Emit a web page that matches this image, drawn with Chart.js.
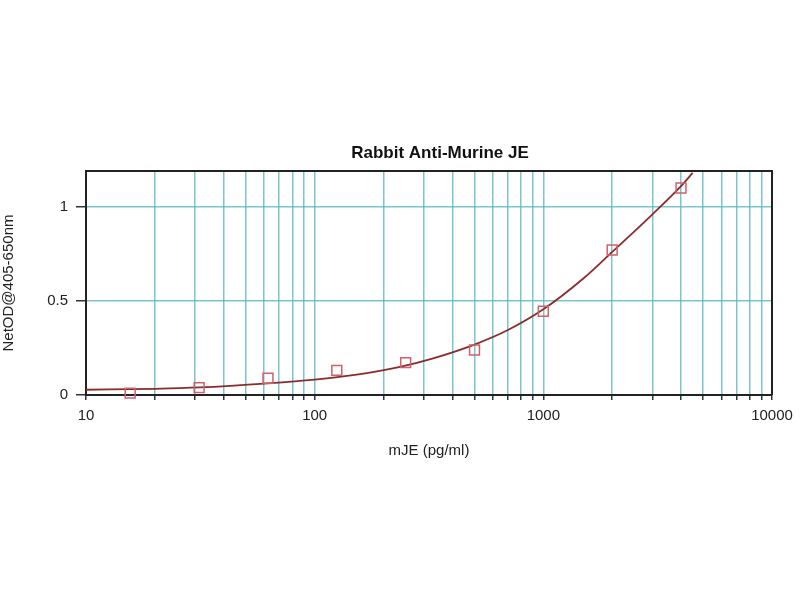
<!DOCTYPE html>
<html>
<head>
<meta charset="utf-8">
<script src="https://cdn.jsdelivr.net/npm/chart.js@4.4.0/dist/chart.umd.min.js"></script>
<style>
  html, body { margin: 0; padding: 0; background: #fff; }
  #wrap { width: 800px; height: 600px; }
</style>
</head>
<body>
<div id="wrap"><canvas id="canvas"></canvas></div>
<script>
// measured standards (pg/ml) and net OD
var conc = [15.6, 31.25, 62.5, 125, 250, 500, 1000, 2000, 4000];
var od = [0.01, 0.039, 0.089, 0.131, 0.172, 0.239, 0.445, 0.77, 1.10];

// fitted curve
var fitX = [10, 20, 31.25, 62.5, 100, 150, 236, 330, 500, 700, 1000, 1500, 2000, 3000, 4000, 4500];
var fitY = [0.028, 0.033, 0.040, 0.062, 0.082, 0.107, 0.150, 0.195, 0.268, 0.345, 0.455, 0.62, 0.76, 0.96, 1.11, 1.18];

var yTicks = [0, 0.5, 1];
var xGrid = [10, 20, 30, 40, 50, 60, 70, 80, 90,
             100, 200, 300, 400, 500, 600, 700, 800, 900,
             1000, 2000, 3000, 4000, 5000, 6000, 7000, 8000, 9000, 10000];
var xLabels = [10, 100, 1000, 10000];

var FONT = "'Liberation Sans', Arial, sans-serif";
var gridTeal = "rgba(80,178,188,0.75)";

function toPoints(xs, ys) {
    var pts = [];
    for (var i = 0; i < xs.length; i++) {
        pts.push({ x: xs[i], y: ys[i] });
    }
    return pts;
}

var framePlugin = {
    id: "frame",
    afterDatasetsDraw: function (chart) {
        var a = chart.chartArea;
        var ctx = chart.ctx;
        ctx.save();
        ctx.strokeStyle = "#222";
        ctx.lineWidth = 2;
        ctx.beginPath();
        ctx.moveTo(a.left, a.top);
        ctx.lineTo(a.right, a.top);
        ctx.lineTo(a.right, a.bottom);
        ctx.stroke();
        ctx.fillStyle = "#111";
        ctx.font = "bold 17px " + FONT;
        ctx.textAlign = "center";
        ctx.textBaseline = "middle";
        ctx.fillText("Rabbit Anti-Murine JE", 440, 153);
        ctx.restore();
    }
};

new Chart(document.getElementById("canvas"), {
    type: "scatter",
    data: {
        datasets: [{
            label: "fit",
            data: toPoints(fitX, fitY),
            showLine: true,
            borderColor: "#8a2c2c",
            borderWidth: 1.8,
            pointRadius: 0,
            cubicInterpolationMode: "monotone",
            order: 2
        }, {
            label: "standards",
            data: toPoints(conc, od),
            pointStyle: "rect",
            pointRadius: 7,
            pointBorderWidth: 1.5,
            pointBorderColor: "#d0606c",
            pointBackgroundColor: "rgba(255,255,255,0)",
            showLine: false,
            clip: false,
            order: 1
        }]
    },
    options: {
        responsive: true,
        maintainAspectRatio: false,
        animation: false,
        layout: {
            padding: { top: 171, right: 28, bottom: 135, left: 0 }
        },
        plugins: {
            legend: { display: false },
            tooltip: { enabled: false }
        },
        scales: {
            x: {
                type: "logarithmic",
                min: 10,
                max: 10000,
                afterFit: function (s) { s.height = 70; },
                afterBuildTicks: function (s) {
                    s.ticks = xGrid.map(function (v) { return { value: v }; });
                },
                border: { color: "#222", width: 2 },
                grid: {
                    color: gridTeal,
                    lineWidth: 1.5,
                    tickColor: "#333",
                    tickLength: 5
                },
                ticks: {
                    autoSkip: false,
                    maxRotation: 0,
                    padding: 7,
                    color: "#222",
                    font: { family: FONT, size: 15 },
                    callback: function (v) {
                        return xLabels.indexOf(v) >= 0 ? String(v) : "";
                    }
                },
                title: {
                    display: true,
                    text: "mJE (pg/ml)",
                    color: "#222",
                    font: { family: FONT, size: 15 },
                    padding: { top: 0, bottom: 5 }
                }
            },
            y: {
                min: 0,
                max: 1.19,
                afterFit: function (s) { s.width = 86; },
                afterBuildTicks: function (s) {
                    s.ticks = yTicks.map(function (v) { return { value: v }; });
                },
                border: { color: "#222", width: 2 },
                grid: {
                    color: gridTeal,
                    lineWidth: 1.5,
                    tickColor: "#333",
                    tickLength: 10
                },
                ticks: {
                    padding: 8,
                    color: "#222",
                    font: { family: FONT, size: 15 },
                    callback: function (v) { return String(v); }
                },
                title: {
                    display: true,
                    text: "NetOD@405-650nm",
                    color: "#222",
                    font: { family: FONT, size: 15 },
                    padding: 0
                }
            }
        }
    },
    plugins: [framePlugin]
});
</script>
</body>
</html>
